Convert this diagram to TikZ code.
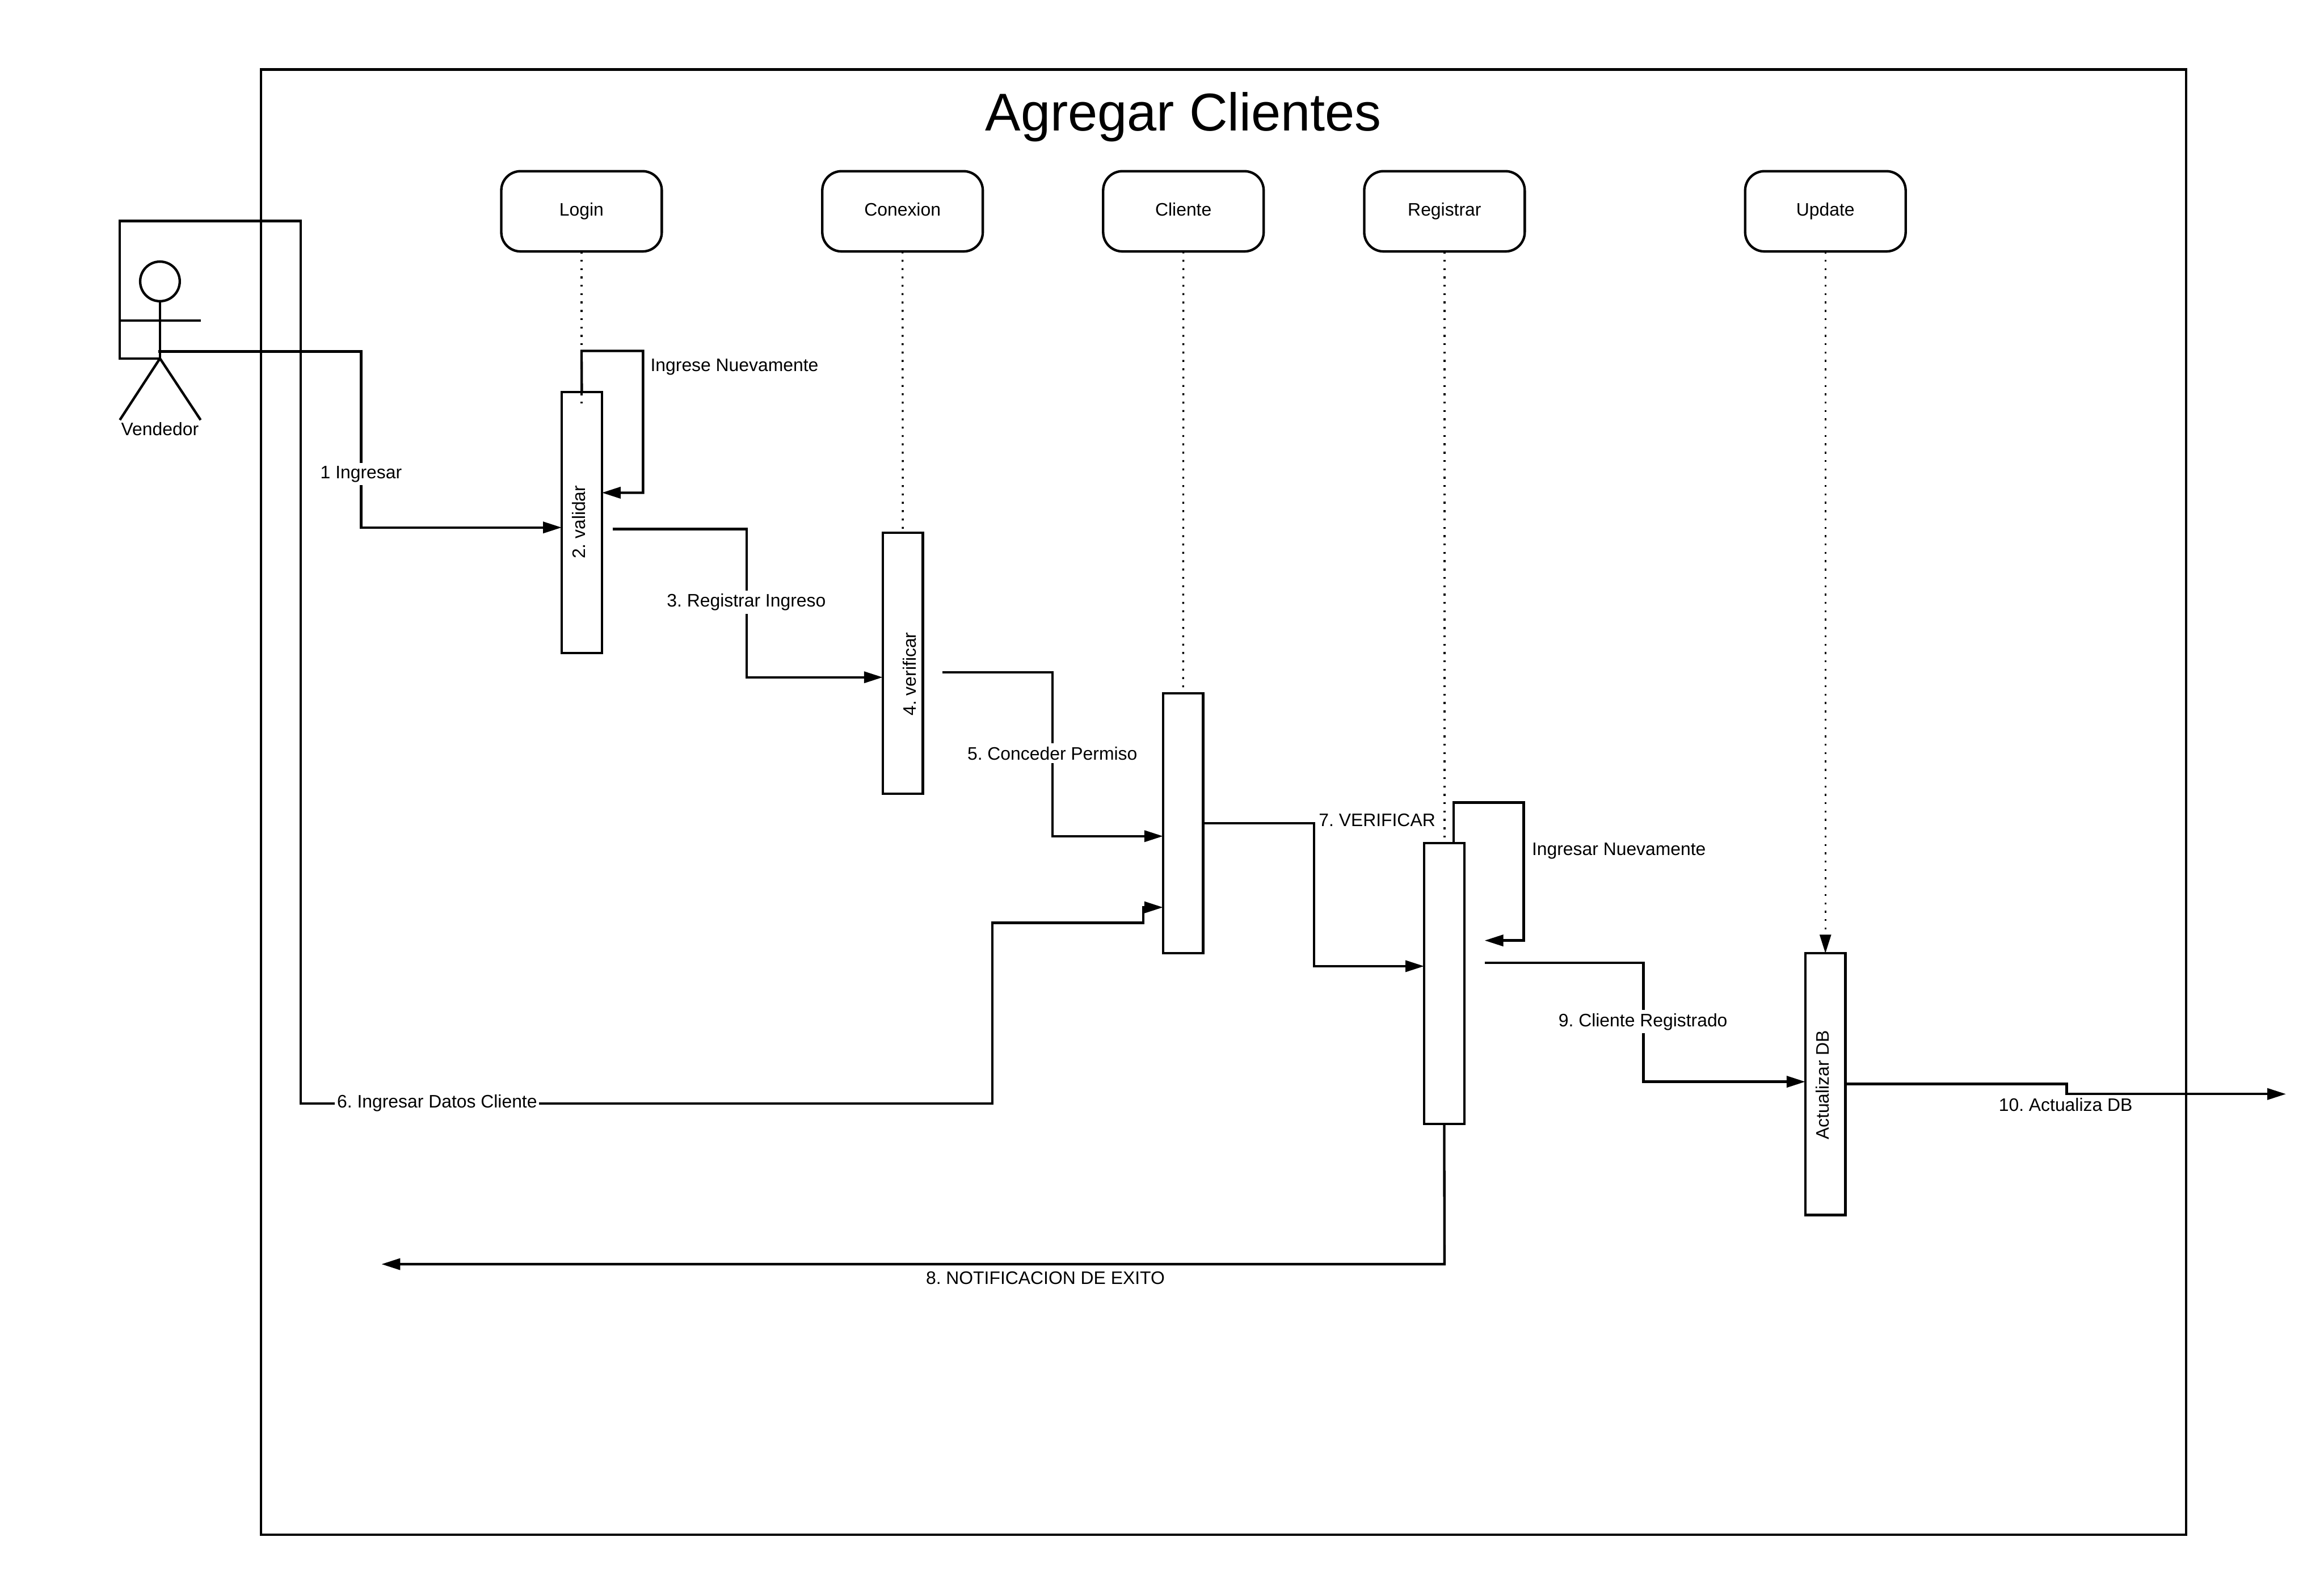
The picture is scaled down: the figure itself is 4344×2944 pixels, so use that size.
\documentclass[tikz,border=0pt]{standalone}
\usepackage{fontspec}
\setmainfont{Liberation Sans}
\frenchspacing
\usetikzlibrary{arrows.meta}
\tikzset{
  x=0.25pt,y=-0.25pt,
  every node/.style={inner sep=0pt,outer sep=0pt},
  ln/.style={line width=1.15pt,line join=miter},
  arr/.style={ln,-{Triangle[length=8.75pt,width=5.25pt]}},
  life/.style={draw,line width=1.15pt,rounded corners=9pt,fill=white,minimum width=75pt,minimum height=37.5pt,font=\fontsize{8.45pt}{10pt}\selectfont,text height=6.1pt,text depth=1.8pt},
  activ/.style={draw,line width=1.15pt,fill=white,minimum width=18.75pt},
  dots/.style={line width=0.9pt,dash pattern=on 0.9pt off 3pt},
  lbl/.style={font=\fontsize{8.45pt}{10pt}\selectfont},
  wlbl/.style={lbl,fill=white,inner xsep=1pt,inner ysep=1.5pt},
  vlbl/.style={lbl,rotate=90},
}
\begin{document}
\begin{tikzpicture}
\useasboundingbox (0,0) rectangle (4344,2944);
\begin{scope}[shift={(0,2)}]
\node[draw,ln,anchor=north west,minimum width=899.75pt,minimum height=684.75pt] (frame) at (487.5,128) {};
\node[font=\fontsize{24.85pt}{30pt}\selectfont] (title) at (2212,217) {Agregar Clientes};

% lifeline heads
\node[life] (login) at (1087,393) {Login};
\node[life] (conexion) at (1687,393) {Conexion};
\node[life] (cliente) at (2212,393) {Cliente};
\node[life] (registrar) at (2700,393) {Registrar};
\node[life] (update) at (3412,393) {Update};

% activation bars
\node[activ,minimum height=122pt] (avalidar) at (1087.5,975) {};
\node[activ,minimum height=122pt] (averificar) at (1687.5,1238) {};
\node[activ,minimum height=121.5pt] (acliente) at (2211.5,1537) {};
\node[activ,minimum height=131.25pt] (aregistrar) at (2699.5,1836.5) {};
\node[activ,minimum height=122.25pt] (aupdate) at (3412,2024.5) {};

\node[vlbl] (tvalidar) at (1082,974) {2. validar};
\node[vlbl] (tverificar) at (1700,1258) {4. verificar};
\node[vlbl] (tupdate) at (3407,2026) {Actualizar DB};

% lifelines
\coordinate (loginend) at (1087,752);
\draw[dots] (login.south) -- (loginend);
\draw[dots] (conexion.south) -- (averificar.north);
\draw[dots] (cliente.south) -- (acliente.north);
\coordinate (regend) at (2700,1566);
\draw[dots] (registrar.south) -- (regend);
\draw[dots,-{Triangle[length=8.75pt,width=5.25pt]}] (update.south) -- (aupdate.north);

% actor
\node[draw,ln,circle,minimum size=18.5pt] (head) at (299,524) {};
\coordinate (hip) at (299,668);
\coordinate (armL) at (224,597);
\coordinate (armR) at (375,597);
\coordinate (legL) at (224,783);
\coordinate (legR) at (375,783);
\draw[ln] (head.south) -- (hip);
\draw[ln] (armL) -- (armR);
\draw[ln] (legL) -- (hip) -- (legR);
\node[lbl] (vendedor) at (299,800) {Vendedor};

% 1 Ingresar
\coordinate (s1) at (296,655);
\draw[arr] (s1) -- (675,655) -- (675,984) -- (avalidar.west |- 0,984);
\node[wlbl] (l1) at (675,884) {1 Ingresar};

% Ingrese Nuevamente
\draw[arr] (avalidar.north) -- (1087,654) -- (1202,654) -- (1202,919) -- (avalidar.east |- 0,919);
\node[lbl,anchor=west] (lreing) at (1216,684) {Ingrese Nuevamente};

% 3 Registrar Ingreso
\coordinate (s3) at (1145,987);
\draw[arr] (s3) -- (1396,987) -- (1396,1264) -- (averificar.west |- 0,1264);
\node[wlbl] (l3) at (1395,1124) {3. Registrar Ingreso};

% 5 Conceder Permiso
\coordinate (s5) at (1762,1255);
\draw[arr] (s5) -- (1967,1255) -- (1967,1561) -- (acliente.west |- 0,1561);
\node[wlbl] (l5) at (1967,1406) {5. Conceder Permiso};

% 6 Ingresar Datos Cliente
\draw[arr] (hip) -- (224,668) -- (224,411) -- (562,411) -- (562,2061) -- (1855,2061) -- (1855,1723) -- (2137,1723) -- (2137,1694) -- (acliente.west |- 0,1694);
\node[wlbl] (l6) at (817,2060) {6. Ingresar Datos Cliente};

% 7 VERIFICAR
\draw[arr] (acliente.east |- 0,1537) -- (2456,1537) -- (2456,1804) -- (aregistrar.west |- 0,1804);
\node[lbl] (l7) at (2574,1531) {7. VERIFICAR};

% Ingresar Nuevamente
\coordinate (s7b) at (2717,1573);
\coordinate (e7b) at (2775,1756);
\draw[arr] (s7b) -- (2717,1498) -- (2848,1498) -- (2848,1756) -- (e7b);
\node[lbl] (lreg) at (3026,1589) {Ingresar Nuevamente};

% 8 Notificacion
\coordinate (e8) at (713,2361);
\draw[arr] (aregistrar.south) -- (2700,2361) -- (e8);
\node[lbl] (l8) at (1954,2387) {8. NOTIFICACION DE EXITO};

% 9 Cliente Registrado
\coordinate (s9) at (2775,1798);
\draw[arr] (s9) -- (3072,1798) -- (3072,2020) -- (aupdate.west |- 0,2020);
\node[wlbl] (l9) at (3071,1908) {9. Cliente Registrado};

% 10 Actualiza DB
\coordinate (e10) at (4273,2043);
\draw[arr] (aupdate.east |- 0,2024) -- (3863,2024) -- (3863,2043) -- (e10);
\node[lbl] (l10) at (3861,2063) {10. Actualiza DB};
\end{scope}
\end{tikzpicture}
\end{document}
